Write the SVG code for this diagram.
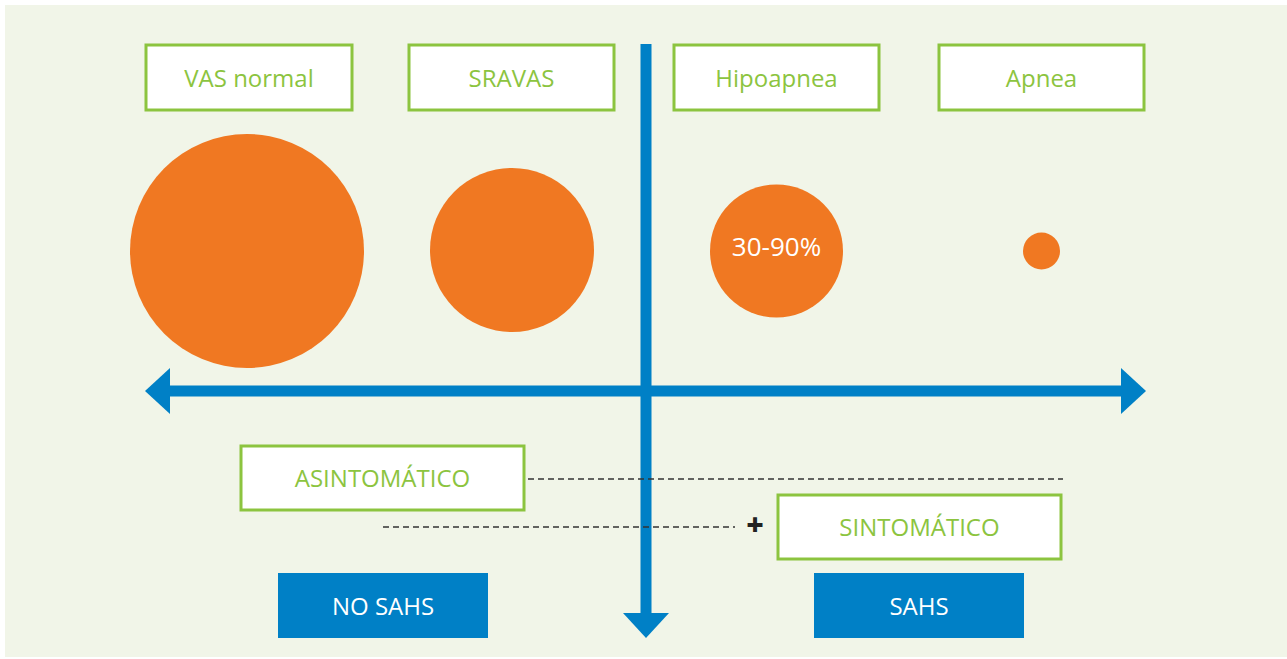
<svg xmlns="http://www.w3.org/2000/svg" width="1287" height="659" viewBox="0 0 1287 659">
<style>
.box{fill:#fff;stroke:#8cc43f;stroke-width:3}
.lbl{font-family:"Open Sans",sans-serif;font-size:24px;fill:#8cc43f;text-anchor:middle}
.blue{fill:#0080c6}
.wt{font-family:"Open Sans",sans-serif;font-size:24px;fill:#fff;text-anchor:middle}
.circ{fill:#f07822}
.dash{stroke:#333;stroke-width:1.3;stroke-dasharray:6 4;fill:none}
</style>
<rect x="5" y="5" width="1282" height="652" fill="#f1f5e8"/>
<g id="connectors">
<rect x="640.5" y="44" width="11" height="572" class="blue"/>
<polygon points="623,613 669,613 646,638" class="blue"/>
<rect x="168" y="385.5" width="955" height="11" class="blue"/>
<polygon points="145,391 170,368 170,414" class="blue"/>
<polygon points="1146,391 1121,368 1121,414" class="blue"/>
<line x1="528" y1="479" x2="1063" y2="479" class="dash"/>
<line x1="383" y1="527" x2="735" y2="527" class="dash"/>
<text x="755" y="535" font-family="'Open Sans',sans-serif" font-size="30" font-weight="800" fill="#222" text-anchor="middle">+</text>
</g>
<g id="vas-normal"><rect x="146" y="45" width="206" height="65" class="box"/><text x="249" y="87" class="lbl">VAS normal</text></g>
<g id="sravas"><rect x="409" y="45" width="205" height="65" class="box"/><text x="511.5" y="87" class="lbl">SRAVAS</text></g>
<g id="hipoapnea"><rect x="674" y="45" width="205" height="65" class="box"/><text x="776.5" y="87" class="lbl">Hipoapnea</text></g>
<g id="apnea"><rect x="939" y="45" width="205" height="65" class="box"/><text x="1041.5" y="87" class="lbl">Apnea</text></g>
<g id="circle-vas"><circle cx="247" cy="251" r="117" class="circ"/></g>
<g id="circle-sravas"><circle cx="512" cy="250" r="82" class="circ"/></g>
<g id="circle-hipoapnea"><circle cx="776.5" cy="251" r="66.5" class="circ"/><text x="776.5" y="256" font-family="'Open Sans',sans-serif" font-size="26" fill="#fff" text-anchor="middle">30-90%</text></g>
<g id="circle-apnea"><circle cx="1041.5" cy="251" r="18.5" class="circ"/></g>
<g id="asintomatico"><rect x="241" y="446" width="283" height="64" class="box"/><text x="382.5" y="487" class="lbl">ASINTOMÁTICO</text></g>
<g id="sintomatico"><rect x="778" y="495" width="283" height="64" class="box"/><text x="919.5" y="536" class="lbl">SINTOMÁTICO</text></g>
<g id="no-sahs"><rect x="278" y="573" width="210" height="65" class="blue"/><text x="383" y="615" class="wt">NO SAHS</text></g>
<g id="sahs"><rect x="814" y="573" width="210" height="65" class="blue"/><text x="919" y="615" class="wt">SAHS</text></g>
</svg>
